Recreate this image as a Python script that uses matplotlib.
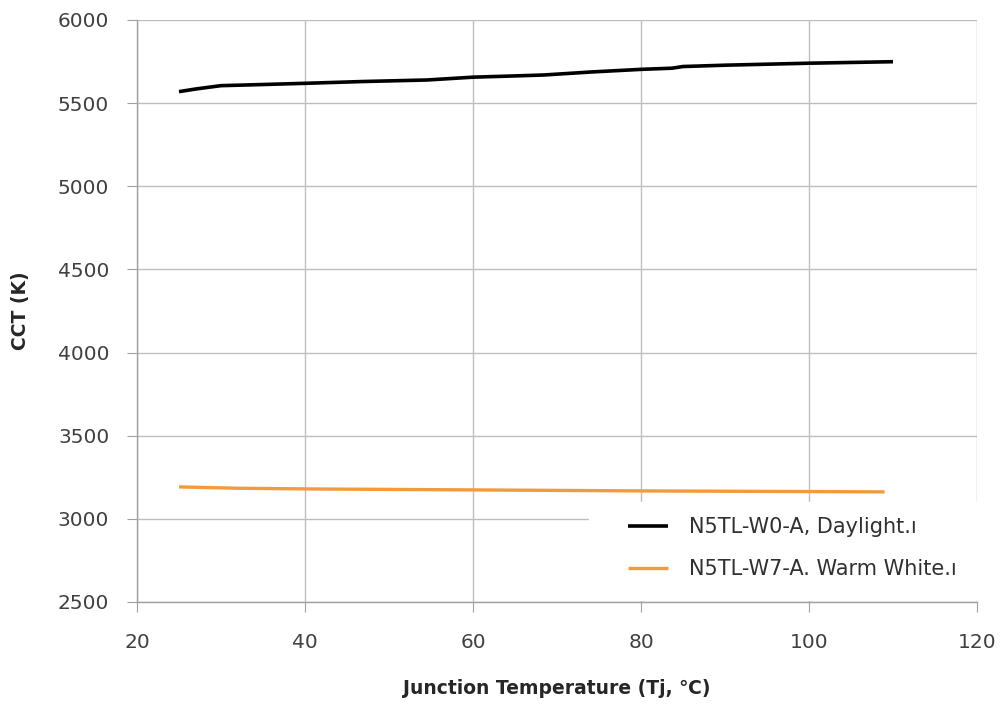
import matplotlib
matplotlib.use("Agg")
import matplotlib.pyplot as plt
from matplotlib.patches import Rectangle

# Data
tj_day = [25, 27, 30, 33, 40, 47, 54.5, 60, 64, 68.4, 74, 80, 83.7, 85, 90, 100, 110]
cct_day = [5569, 5585, 5605, 5609, 5619, 5630, 5639, 5656, 5662, 5669, 5687, 5703, 5710, 5720, 5728, 5740, 5749]
tj_warm = [25, 32, 40, 50, 60, 70, 80, 90, 100, 109]
cct_warm = [3192, 3184, 3180, 3177, 3174, 3171, 3168, 3166, 3164, 3162]
label_day = "N5TL-W0-A, Daylight.\u0131"
label_warm = "N5TL-W7-A. Warm White.\u0131"
xticks = [20, 40, 60, 80, 100, 120]
yticks = [2500, 3000, 3500, 4000, 4500, 5000, 5500, 6000]

plt.rcParams['font.family'] = ['DejaVu Sans']

fig = plt.figure(figsize=(10.03, 7.13), dpi=100)
ax = fig.add_axes([0.1366, 0.1557, 0.8375, 0.8163])

ax.plot(tj_day, cct_day, color='black', lw=2.6, solid_capstyle='butt', label=label_day, zorder=3)
ax.plot(tj_warm, cct_warm, color='#F39A3C', lw=2.4, solid_capstyle='butt', label=label_warm, zorder=3)

ax.set_xlim(20, 120)
ax.set_ylim(2500, 6000)
ax.set_xticks(xticks)
ax.set_yticks(yticks)
ax.grid(True, color='#BEBEBE', lw=1.0)
ax.set_axisbelow(True)
for s in ['top', 'right']:
    ax.spines[s].set_visible(False)
for s in ['left', 'bottom']:
    ax.spines[s].set_color('#A0A0A0')
    ax.spines[s].set_linewidth(1.0)
    ax.spines[s].set_zorder(2.6)
ax.tick_params(axis='y', direction='out', length=7, color='#A0A0A0', labelsize=14.5, labelcolor='#404040', pad=13)
ax.tick_params(axis='x', direction='out', length=7, color='#A0A0A0', labelsize=14.5, labelcolor='#404040', pad=15)

ax.set_ylabel("CCT (K)", fontsize=13.5, fontweight='bold', color='#262626', labelpad=20)
ax.set_xlabel("Junction Temperature (Tj, \u2103)", fontsize=13.5, fontweight='bold', color='#262626', labelpad=20)

# white legend background covering grid
ax.add_patch(Rectangle((0.538, 0.002), 0.47, 0.17, transform=ax.transAxes,
                       facecolor='white', edgecolor='none', zorder=2.5, clip_on=False))

leg = ax.legend(loc='upper left', bbox_to_anchor=(0.5845, 0.146),
                frameon=False, fontsize=15, handlelength=1.9, handletextpad=1.05,
                labelspacing=1.05, borderpad=0, borderaxespad=0, labelcolor='#303030')
leg.set_zorder(4)

fig.savefig("out.png", dpi=100, facecolor='white')
